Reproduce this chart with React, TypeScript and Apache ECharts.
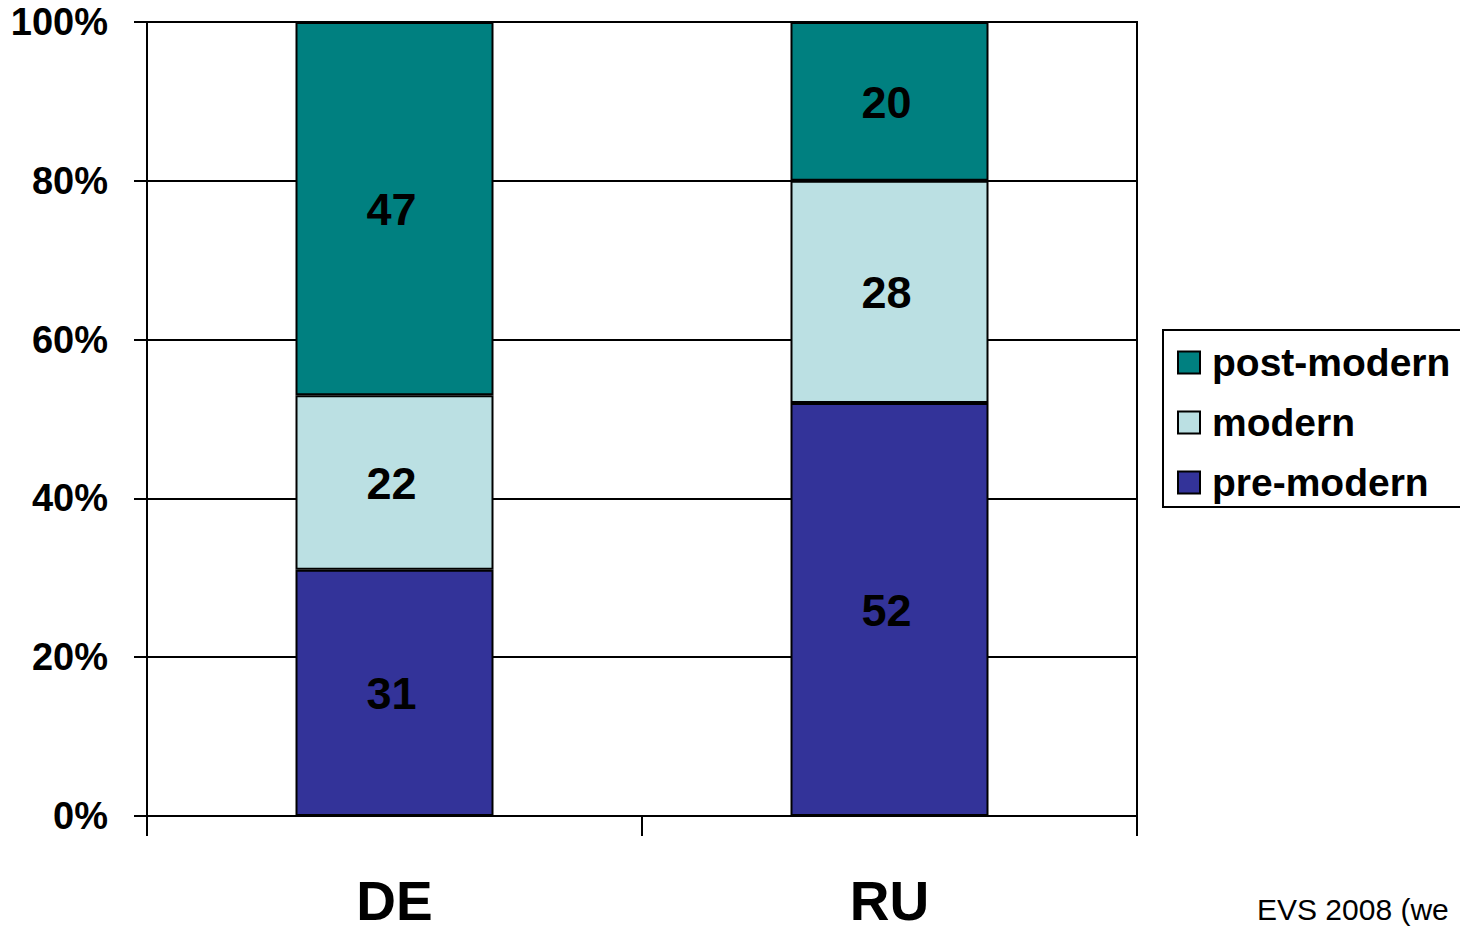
import React, { useEffect, useRef } from "react";
import * as echarts from "echarts";

const categories = ["DE", "RU"];
const preModern = [31, 52];
const modern = [22, 28];
const postModern = [47, 20];
const yTicks = [0, 20, 40, 60, 80, 100];
const sourceNote = "EVS 2008 (we";

const FONT = "'Liberation Sans', Arial, sans-serif";

export default function App() {
  const ref = useRef<HTMLDivElement | null>(null);

  useEffect(() => {
    if (!ref.current) return;
    const chart = echarts.init(ref.current, undefined, { renderer: "svg" });

    const segLabel = {
      show: true,
      position: "inside" as const,
      color: "#000",
      fontFamily: FONT,
      fontWeight: "bold" as const,
      fontSize: 45,
      offset: [-3, 1],
    };
    const segStyle = (color: string) => ({
      color,
      borderColor: "#000",
      borderWidth: 2,
    });

    chart.setOption({
      animation: false,
      backgroundColor: "#fff",
      grid: {
        left: 147,
        top: 22,
        width: 990,
        height: 794,
        show: true,
        borderColor: "#000",
        borderWidth: 2,
        backgroundColor: "transparent",
      },
      xAxis: {
        type: "category",
        data: categories,
        axisLine: { show: true, lineStyle: { color: "#000", width: 2 } },
        axisTick: { show: true, length: 20, lineStyle: { color: "#000", width: 2 } },
        axisLabel: {
          color: "#000",
          fontFamily: FONT,
          fontWeight: "bold",
          fontSize: 55,
          lineHeight: 44,
          margin: 63,
        },
      },
      yAxis: {
        type: "value",
        min: yTicks[0],
        max: yTicks[yTicks.length - 1],
        interval: 20,
        axisLine: { show: true, lineStyle: { color: "#000", width: 2 } },
        axisTick: { show: true, length: 13, lineStyle: { color: "#000", width: 2 } },
        splitLine: { show: true, lineStyle: { color: "#000", width: 2 } },
        axisLabel: {
          formatter: "{value}%",
          color: "#000",
          fontFamily: FONT,
          fontWeight: "bold",
          fontSize: 38,
          margin: 39,
        },
      },
      legend: {
        orient: "vertical",
        left: 1177,
        top: 343,
        padding: 0,
        itemWidth: 22,
        itemHeight: 22,
        itemGap: 21,
        icon: "rect",
        data: ["post-modern", "modern", "pre-modern"],
        textStyle: {
          color: "#000",
          fontFamily: FONT,
          fontWeight: "bold",
          fontSize: 39,
          lineHeight: 38,
          padding: [0, 0, 0, 7],
        },
      },
      graphic: [
        {
          type: "rect",
          left: 1162,
          top: 329,
          z: -1,
          shape: { width: 400, height: 177 },
          style: { fill: "#fff", stroke: "#000", lineWidth: 2 },
        },
        {
          type: "text",
          left: 1257,
          top: 894,
          style: {
            text: sourceNote,
            fill: "#000",
            font: `normal 30px ${FONT}`,
          },
        },
      ],
      series: [
        {
          name: "pre-modern",
          type: "bar",
          stack: "total",
          barWidth: 198,
          data: preModern,
          itemStyle: segStyle("#333399"),
          label: segLabel,
        },
        {
          name: "modern",
          type: "bar",
          stack: "total",
          barWidth: 198,
          data: modern,
          itemStyle: segStyle("#BBE0E3"),
          label: segLabel,
        },
        {
          name: "post-modern",
          type: "bar",
          stack: "total",
          barWidth: 198,
          data: postModern,
          itemStyle: segStyle("#008080"),
          label: segLabel,
        },
      ],
    });

    return () => chart.dispose();
  }, []);

  return (
    <div
      ref={ref}
      style={{ position: "fixed", left: 0, top: 0, width: 1460, height: 929 }}
    />
  );
}
